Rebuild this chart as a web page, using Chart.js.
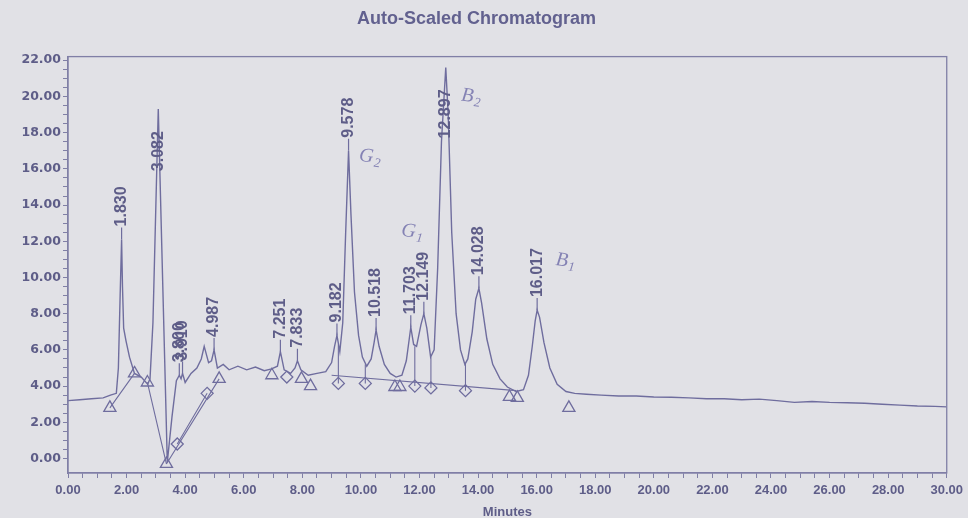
<!DOCTYPE html>
<html>
<head>
<meta charset="utf-8">
<title>Auto-Scaled Chromatogram</title>
<script src="https://cdn.jsdelivr.net/npm/chart.js@4.4.1/dist/chart.umd.min.js"></script>
<style>
    html, body { margin: 0; padding: 0; overflow: hidden; background: #e1e1e6; }
    #wrap { width: 968px; height: 530px; }
</style>
</head>
<body>
<div id="wrap"><canvas id="chromChart"></canvas></div>
<script>
// chromatogram trace (minutes / signal)
const traceTime = [
    0.0, 0.4, 0.8, 1.2, 1.45, 1.65, 1.72, 1.78, 1.83, 1.86, 1.9, 1.98, 2.1, 2.27, 2.5, 2.72,
    2.8, 2.9, 3.0, 3.082, 3.2, 3.3, 3.39, 3.55, 3.7, 3.8, 3.86, 3.91, 4.0, 4.2, 4.4, 4.55,
    4.65, 4.8, 4.9, 4.987, 5.1, 5.3, 5.5, 5.8, 6.1, 6.4, 6.7, 6.95, 7.15, 7.251, 7.38, 7.6,
    7.75, 7.833, 7.95, 8.2, 8.5, 8.8, 9.0, 9.1, 9.182, 9.28, 9.38, 9.48, 9.578, 9.66, 9.78,
    9.92, 10.05, 10.2, 10.35, 10.45, 10.518, 10.62, 10.8, 11.0, 11.2, 11.4, 11.55, 11.65,
    11.703, 11.8, 11.9, 12.05, 12.149, 12.25, 12.38, 12.5, 12.62, 12.75, 12.897, 12.98, 13.1,
    13.25, 13.4, 13.55, 13.65, 13.8, 13.92, 14.028, 14.12, 14.3, 14.5, 14.75, 15.0, 15.3,
    15.55, 15.72, 15.85, 15.95, 16.017, 16.1, 16.25, 16.45, 16.7, 17.0, 17.3, 17.7, 18.2,
    18.8, 19.4, 20.0, 20.6, 21.2, 21.8, 22.4, 23.0, 23.6, 24.2, 24.8, 25.4, 26.0, 26.6, 27.2,
    27.8, 28.4, 29.0, 29.6, 30.0
];
const traceSignal = [
    3.2, 3.25, 3.3, 3.35, 3.5, 3.6, 5.0, 9.0, 12.1, 9.5, 7.2, 6.5, 5.6, 4.7, 4.5, 4.1,
    4.4, 7.5, 14.0, 19.3, 11.8, 5.5, -0.2, 2.3, 4.3, 4.6, 4.4, 4.7, 4.2, 4.7, 5.0, 5.5,
    6.2, 5.3, 5.4, 6.0, 5.0, 5.2, 4.9, 5.1, 4.9, 5.05, 4.85, 4.95, 5.1, 5.9, 4.9, 4.7,
    5.0, 5.4, 4.9, 4.6, 4.7, 4.8, 5.3, 6.2, 6.8, 5.9, 7.5, 12.5, 17.0, 13.5, 9.2,
    6.8, 5.6, 5.1, 5.5, 6.4, 7.1, 6.2, 5.2, 4.7, 4.5, 4.6, 5.4, 6.6,
    7.25, 6.3, 6.2, 7.4, 8.0, 7.2, 5.6, 6.0, 10.5, 17.5, 21.6, 19.0, 12.5,
    8.0, 6.0, 5.2, 5.5, 7.0, 8.8, 9.4, 8.6, 6.6, 5.2, 4.4, 3.95, 3.7,
    3.8, 4.6, 6.2, 7.6, 8.2, 7.8, 6.4, 5.0, 4.1, 3.7, 3.6, 3.55, 3.5,
    3.45, 3.45, 3.4, 3.38, 3.35, 3.3, 3.3, 3.25, 3.28, 3.2, 3.1, 3.15, 3.1, 3.08, 3.05,
    3.0, 2.95, 2.9, 2.88, 2.85
];

// detected peaks
const peakTimes = [1.830, 3.082, 3.800, 3.910, 4.987, 7.251, 7.833, 9.182, 9.578, 10.518, 11.703, 12.149, 12.897, 14.028, 16.017];
const peakHeights = [12.1, 19.3, 4.6, 4.7, 6.0, 5.9, 5.4, 6.8, 17.0, 7.1, 7.25, 8.0, 21.6, 9.4, 8.2];
const peakLabels = ['1.830', '3.082', '3.800', '3.910', '4.987', '7.251', '7.833', '9.182', '9.578', '10.518', '11.703', '12.149', '12.897', '14.028', '16.017'];

// peak start / end markers
const triangleTimes = [1.43, 2.27, 2.71, 3.36, 5.16, 6.96, 7.97, 8.28, 11.16, 11.33, 15.07, 15.34, 17.1];
const triangleSignal = [2.8, 4.7, 4.2, -0.3, 4.4, 4.6, 4.4, 4.0, 3.95, 3.95, 3.4, 3.35, 2.8];
const diamondTimes = [3.73, 4.75, 7.47, 9.23, 10.15, 11.84, 12.39, 13.57];
const diamondSignal = [0.8, 3.6, 4.5, 4.15, 4.15, 4.0, 3.9, 3.75];

// integration baselines
const baseFromTime = [1.43, 2.71, 3.36, 3.73, 9.0];
const baseFromSignal = [2.8, 4.2, -0.3, 0.8, 4.6];
const baseToTime = [2.27, 3.36, 5.16, 4.75, 15.3];
const baseToSignal = [4.7, -0.3, 4.4, 3.6, 3.75];

// drop lines between fused peaks
const dropTimes = [9.23, 10.15, 11.84, 12.39, 13.57];
const dropTop = [6.3, 5.2, 6.2, 5.6, 5.25];
const dropBottom = [4.15, 4.15, 4.0, 3.9, 3.75];

// handwritten notes (attached to a peak)
const noteText = ['G', 'G', 'B', 'B'];
const noteSub = ['2', '1', '2', '1'];
const notePeak = ['9.578', '12.149', '12.897', '16.017'];

const xTicks = [0, 2, 4, 6, 8, 10, 12, 14, 16, 18, 20, 22, 24, 26, 28, 30];
const yTicks = [0, 2, 4, 6, 8, 10, 12, 14, 16, 18, 20, 22];

const inkColor = '#6f6d9e';
const textColor = '#5e5d88';
const frameColor = '#807fa6';
const noteColor = '#8482b4';

function minorTicks(major, step) {
    const out = [];
    const first = major[0], last = major[major.length - 1];
    for (let k = 0; first + k * step <= last + 1e-9; k++) {
        out.push({ value: first + k * step });
    }
    return out;
}

function segments(fromT, fromV, toT, toV) {
    const pts = [];
    fromT.forEach((t, i) => {
        pts.push({ x: t, y: fromV[i] }, { x: toT[i], y: toV[i] }, { x: toT[i], y: null });
    });
    return pts;
}

const chromDecor = {
    id: 'chromDecor',
    afterDatasetsDraw(chart) {
        const { ctx, chartArea, scales: { x, y } } = chart;
        ctx.save();
        ctx.strokeStyle = frameColor;
        ctx.lineWidth = 1.3;
        ctx.strokeRect(chartArea.left, chartArea.top, chartArea.width, chartArea.height);

        // retention time labels
        ctx.font = 'bold 16px "Liberation Sans", Arial, sans-serif';
        ctx.fillStyle = textColor;
        ctx.strokeStyle = inkColor;
        ctx.lineWidth = 1.2;
        peakTimes.forEach((t, i) => {
            const px = x.getPixelForValue(t);
            const py = y.getPixelForValue(peakHeights[i]);
            const w = ctx.measureText(peakLabels[i]).width;
            let start = py - 13;
            if (start - w < chartArea.top + 20) {
                start = py + 22 + w;
            } else {
                ctx.beginPath();
                ctx.moveTo(px, py);
                ctx.lineTo(px, start + 1);
                ctx.stroke();
            }
            ctx.save();
            ctx.translate(px, start);
            ctx.rotate(-Math.PI / 2);
            ctx.textAlign = 'left';
            ctx.textBaseline = 'middle';
            ctx.fillText(peakLabels[i], 0, 0);
            ctx.restore();
        });

        // pen notes
        const offsets = [[10, 10], [-23, -78], [15, 33], [18, -45]];
        ctx.fillStyle = noteColor;
        noteText.forEach((txt, i) => {
            const k = peakLabels.indexOf(notePeak[i]);
            const px = x.getPixelForValue(peakTimes[k]) + offsets[i][0];
            const py = y.getPixelForValue(peakHeights[k]) + offsets[i][1];
            ctx.save();
            ctx.translate(px, py);
            ctx.rotate(0.12);
            ctx.font = 'italic 20px "Liberation Serif", serif';
            ctx.textBaseline = 'alphabetic';
            ctx.fillText(txt, 0, 0);
            const w = ctx.measureText(txt).width;
            ctx.font = 'italic 13px "Liberation Serif", serif';
            ctx.fillText(noteSub[i], w + 1, 4);
            ctx.restore();
        });
        ctx.restore();
    }
};

new Chart(document.getElementById('chromChart'), {
    type: 'scatter',
    data: {
        datasets: [
            {
                label: 'Signal',
                data: traceTime.map((t, i) => ({ x: t, y: traceSignal[i] })),
                showLine: true,
                borderColor: inkColor,
                borderWidth: 1.4,
                pointRadius: 0,
                tension: 0
            },
            {
                label: 'Baseline',
                data: segments(baseFromTime, baseFromSignal, baseToTime, baseToSignal),
                showLine: true,
                spanGaps: false,
                borderColor: inkColor,
                borderWidth: 1.1,
                pointRadius: 0
            },
            {
                label: 'Drop',
                data: segments(dropTimes, dropTop, dropTimes, dropBottom),
                showLine: true,
                spanGaps: false,
                borderColor: inkColor,
                borderWidth: 1.1,
                pointRadius: 0
            },
            {
                label: 'Start/End',
                data: triangleTimes.map((t, i) => ({ x: t, y: triangleSignal[i] })),
                pointStyle: 'triangle',
                pointRadius: 7,
                backgroundColor: 'transparent',
                borderColor: inkColor,
                borderWidth: 1.3
            },
            {
                label: 'Valley',
                data: diamondTimes.map((t, i) => ({ x: t, y: diamondSignal[i] })),
                pointStyle: 'rectRot',
                pointRadius: 6,
                backgroundColor: 'transparent',
                borderColor: inkColor,
                borderWidth: 1.3
            }
        ]
    },
    options: {
        responsive: true,
        maintainAspectRatio: false,
        animation: false,
        layout: { padding: { left: 0, right: 15, top: 0, bottom: 0 } },
        plugins: {
            legend: { display: false },
            tooltip: { enabled: false },
            title: {
                display: true,
                text: 'Auto-Scaled Chromatogram',
                color: '#62618f',
                font: { family: '"Liberation Sans", Arial, sans-serif', size: 18, weight: 'bold' },
                padding: { top: 8, bottom: 27 }
            }
        },
        scales: {
            x: {
                type: 'linear',
                min: 0,
                max: 30,
                afterBuildTicks: s => { s.ticks = minorTicks(xTicks, 0.5); },
                afterFit: s => { s.height = 57; },
                ticks: {
                    autoSkip: false,
                    maxRotation: 0,
                    padding: 5,
                    color: textColor,
                    font: { family: '"Liberation Sans", Arial, sans-serif', size: 13, weight: 'bold' },
                    callback: v => xTicks.includes(v) ? v.toFixed(2) : ''
                },
                grid: { drawOnChartArea: false, tickLength: 5, tickColor: frameColor },
                border: { color: frameColor, width: 1.3 },
                title: {
                    display: true,
                    text: 'Minutes',
                    color: textColor,
                    font: { family: '"Liberation Sans", Arial, sans-serif', size: 13, weight: 'bold' },
                    padding: { top: 10, bottom: 10 }
                }
            },
            y: {
                type: 'linear',
                min: -0.8,
                max: 22.2,
                afterBuildTicks: s => { s.ticks = minorTicks(yTicks, 0.5); },
                afterFit: s => { s.width = 68; },
                ticks: {
                    autoSkip: false,
                    padding: 2,
                    color: textColor,
                    font: { family: '"DejaVu Sans", sans-serif', size: 12.5, weight: 'bold' },
                    callback: v => yTicks.includes(v) ? v.toFixed(2) : ''
                },
                grid: { drawOnChartArea: false, tickLength: 5, tickColor: frameColor },
                border: { color: frameColor, width: 1.3 }
            }
        }
    },
    plugins: [chromDecor]
});
</script>
</body>
</html>
